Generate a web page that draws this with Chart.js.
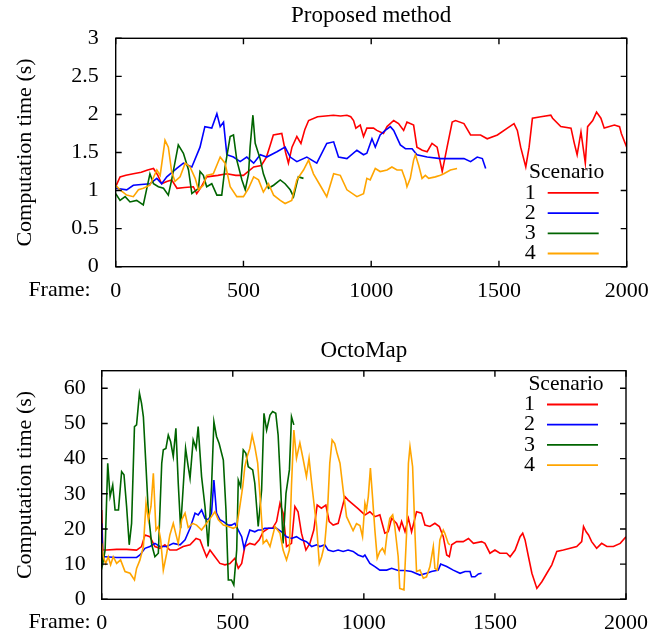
<!DOCTYPE html>
<html>
<head>
<meta charset="utf-8">
<script src="https://cdn.jsdelivr.net/npm/chart.js@4/dist/chart.umd.min.js"></script>
<style>
  html, body { margin: 0; padding: 0; background: #fff; }
  #wrap { position: relative; width: 665px; height: 637px; }
  .box { position: absolute; left: 0; width: 665px; }
</style>
</head>
<body>
<div id="wrap">
  <div class="box" style="top:0;height:318px"><canvas id="c1" width="665" height="318"></canvas></div>
  <div class="box" style="top:318px;height:319px"><canvas id="c2" width="665" height="319"></canvas></div>
</div>
<script>
// ---------------- DATA ----------------
const scenarioLabels = ['1', '2', '3', '4'];
const scenarioColors = ['#ff0000', '#0000ff', '#006400', '#ffa500'];
const xTicks = [0, 500, 1000, 1500, 2000];
const topYTicks = [0, 0.5, 1, 1.5, 2, 2.5, 3];
const bottomYTicks = [0, 10, 20, 30, 40, 50, 60];

// Proposed method — scenario 1
const prop1Frames = [0,17,40,69,100,125,148,165,180,200,219,240,270,304,317,335,356,400,435,470,500,540,570,590,605,617,650,665,676,690,709,725,740,755,790,852,880,905,920,931,940,957,970,983,1009,1022,1048,1062,1088,1107,1127,1140,1166,1179,1200,1219,1238,1258,1278,1297,1317,1330,1363,1389,1428,1454,1494,1533,1559,1572,1585,1605,1618,1631,1664,1703,1710,1742,1782,1795,1806,1821,1838,1847,1867,1882,1899,1912,1952,1972,1979,2000];
const prop1Values = [1.05,1.18,1.2,1.22,1.24,1.27,1.29,1.2,1.09,1.12,1.14,1.03,1.04,1.05,0.96,1.05,1.18,1.2,1.22,1.2,1.2,1.31,1.33,1.44,1.6,1.73,1.75,1.5,1.36,1.57,1.71,1.62,1.8,1.92,1.97,1.99,1.98,1.99,1.97,1.92,1.82,1.86,1.71,1.82,1.82,1.79,1.75,1.84,1.92,1.88,1.79,1.9,1.86,1.57,1.53,1.51,1.62,1.57,1.25,1.57,1.9,1.92,1.88,1.73,1.73,1.68,1.73,1.82,1.88,1.79,1.57,1.31,1.57,1.95,1.97,1.99,1.95,1.84,1.82,1.62,1.47,1.77,1.36,1.84,1.92,2.03,1.95,1.82,1.86,1.84,1.75,1.57];
// Proposed method — scenario 2
const prop2Frames = [0,43,69,100,134,161,180,200,239,265,298,330,349,376,396,409,422,435,461,487,513,540,566,591,631,663,683,709,748,787,826,853,872,905,944,970,983,1003,1016,1035,1055,1075,1088,1114,1134,1160,1179,1219,1271,1323,1363,1389,1415,1435,1448];
const prop2Values = [1.03,1.01,1.07,1.08,1.09,1.16,1.09,1.18,1.29,1.36,1.31,1.57,1.84,1.82,2.01,1.84,1.9,1.47,1.44,1.38,1.44,1.36,1.47,1.44,1.51,1.57,1.44,1.38,1.44,1.36,1.62,1.64,1.44,1.42,1.53,1.47,1.49,1.68,1.57,1.73,1.79,1.84,1.79,1.6,1.55,1.55,1.47,1.44,1.42,1.42,1.42,1.38,1.44,1.42,1.29];
// Proposed method — scenario 3
const prop3Frames = [0,17,37,56,82,108,134,148,167,187,206,219,245,265,285,298,324,330,343,356,376,396,415,428,448,461,474,494,507,520,526,537,546,565,578,598,618,644,663,683,696,715,735];
const prop3Values = [0.96,0.87,0.92,0.85,0.87,0.81,1.22,1.09,1.05,1.03,0.94,1.14,1.6,1.49,1.27,0.96,1.03,1.25,1.2,1.05,1.09,0.94,0.94,1.31,1.71,1.73,1.4,1.14,1.01,1.22,1.57,1.99,1.62,1.42,1.22,1.03,1.07,1.14,1.09,1.01,0.92,1.18,1.16];
// Proposed method — scenario 4
const prop4Frames = [0,17,43,69,89,108,134,161,174,193,206,219,232,252,272,291,311,324,343,356,382,409,428,448,474,500,520,540,559,578,598,618,644,663,689,709,735,755,774,800,826,853,879,905,944,970,983,996,1016,1035,1062,1081,1101,1120,1134,1140,1153,1166,1173,1186,1199,1212,1225,1251,1271,1284,1310,1336];
const prop4Values = [1.07,1.01,0.94,0.92,1.01,1.03,1.07,1.27,1.2,1.66,1.57,1.25,1.12,1.18,1.36,1.31,1.16,1.01,1.07,1.2,1.22,1.44,1.36,1.05,0.92,0.92,1.03,1.18,1.14,0.98,1.09,0.94,0.87,0.83,0.87,1.14,1.27,1.4,1.22,1.07,0.92,1.22,1.2,1.01,0.92,0.96,1.16,1.14,1.29,1.25,1.27,1.31,1.27,1.27,1.14,1.05,1.16,1.4,1.47,1.33,1.16,1.2,1.16,1.18,1.2,1.22,1.27,1.29];

// OctoMap — scenario 1
const octo1Frames = [0,4,19,57,95,133,152,165,184,203,222,241,260,286,311,337,360,375,387,400,413,432,451,470,489,508,521,534,546,565,584,601,616,636,652,667,680,692,705,724,737,749,762,779,794,809,822,838,855,868,883,902,915,928,940,959,978,1004,1023,1042,1061,1080,1093,1106,1125,1135,1144,1157,1170,1182,1201,1220,1233,1252,1271,1288,1303,1316,1326,1335,1354,1379,1399,1418,1449,1462,1481,1500,1519,1545,1558,1577,1596,1606,1615,1628,1641,1660,1679,1698,1717,1736,1761,1787,1812,1831,1838,1848,1857,1869,1888,1907,1927,1952,1978,2000];
const octo1Values = [25.4,14.0,14.0,14.2,14.2,14.0,15.0,18.3,17.8,15.0,14.5,15.5,14.0,14.0,15.0,15.5,17.3,16.9,14.5,12.1,14.0,12.1,10.2,9.8,10.2,11.7,8.8,10.2,15.0,15.9,15.5,16.9,19.2,20.2,20.2,22.1,27.3,24.5,15.0,15.9,26.4,24.9,18.8,14.0,15.9,19.7,26.8,25.9,26.8,22.1,21.1,21.6,25.4,29.2,28.2,27.0,25.8,24.0,24.9,23.5,24.0,18.8,19.2,23.0,21.6,19.7,22.1,19.2,23.0,19.2,24.9,24.5,21.1,20.7,21.6,20.7,17.8,12.6,12.1,15.5,16.4,16.4,17.3,15.9,16.4,15.9,13.1,14.0,13.1,13.1,12.1,14.0,17.8,18.8,16.9,12.1,7.4,3.1,5.0,7.4,9.8,13.6,14.0,14.5,15.0,16.4,20.7,19.2,18.3,16.4,14.5,15.9,15.0,15.0,15.9,17.8];
// OctoMap — scenario 2
const octo2Frames = [0,4,13,57,95,133,146,165,184,203,222,248,273,299,318,337,356,368,381,394,407,419,428,438,451,464,483,495,508,521,534,543,553,565,584,597,610,622,648,667,686,705,724,743,762,781,801,820,832,851,864,883,902,921,940,959,978,997,1004,1023,1042,1061,1087,1106,1131,1157,1182,1214,1239,1258,1284,1293,1316,1341,1367,1386,1405,1411,1424,1437,1449];
const octo2Values = [21.6,12.1,12.1,11.9,11.9,11.9,12.6,14.5,15.0,15.9,15.0,15.0,15.9,15.5,16.9,20.2,24.5,24.0,25.4,23.0,22.6,24.5,33.9,24.5,22.6,22.1,21.1,21.1,21.6,19.7,17.8,14.5,16.9,19.7,19.2,19.7,19.7,20.2,20.2,20.2,19.2,17.8,17.3,17.8,16.9,16.4,15.0,15.5,15.0,15.5,14.0,13.6,14.0,13.6,14.0,13.6,12.6,12.1,12.6,10.2,9.3,8.3,8.3,8.8,8.2,8.2,7.9,6.9,7.4,7.9,8.3,10.0,9.3,8.3,7.4,7.9,7.9,6.4,6.4,7.2,7.4];
// OctoMap — scenario 3
const octo3Frames = [0,4,13,23,32,42,51,64,76,85,95,105,114,125,133,144,152,159,169,178,191,203,216,229,235,245,254,263,273,283,292,301,311,320,330,337,349,360,368,381,394,406,419,428,438,448,464,474,483,495,504,515,521,530,540,550,559,576,584,597,610,619,629,642,652,664,673,682,692,703,716,724,733];
const octo3Values = [15.9,10.2,14.0,38.7,29.2,32.5,25.4,25.4,36.3,35.4,26.4,15.5,21.6,49.1,49.6,58.6,55.7,51.9,37.7,24.5,15.5,12.1,13.1,38.7,42.5,42.9,46.7,44.8,40.6,48.6,33.0,20.2,32.0,42.9,37.7,34.4,45.3,42.9,49.1,34.9,26.4,15.0,32.0,50.5,46.3,44.3,39.6,25.4,5.5,5.5,4.1,14.0,33.9,32.0,42.5,41.5,37.7,36.8,33.0,20.7,31.1,52.9,48.1,52.4,53.4,52.9,46.7,33.0,15.9,30.1,36.8,51.9,49.6];
// OctoMap — scenario 4
const octo4Frames = [0,6,15,25,34,44,57,72,89,108,125,133,146,159,169,178,188,197,207,216,225,235,248,260,273,282,292,305,318,330,347,362,381,400,419,432,445,464,483,502,515,527,538,546,555,565,574,584,595,604,616,629,642,661,680,692,705,716,724,733,743,756,769,781,791,801,811,820,830,839,851,861,870,879,889,898,909,921,934,946,959,972,985,995,1004,1010,1017,1025,1033,1042,1051,1061,1071,1080,1089,1099,1110,1118,1131,1137,1153,1163,1170,1176,1186,1195,1201,1214,1227,1239,1252,1265,1271,1280,1290,1303,1309,1322,1328];
const octo4Values = [15.9,12.1,10.2,12.1,9.8,12.1,10.2,11.2,7.9,7.4,5.5,8.8,11.2,15.0,27.3,22.6,26.4,35.8,19.7,20.7,16.9,8.3,13.1,18.3,21.6,18.8,15.9,22.6,24.5,20.4,21.6,21.1,19.7,21.6,23.5,24.9,22.6,21.1,20.7,20.2,20.7,26.4,32.0,37.7,40.6,42.9,46.7,43.4,38.7,29.2,15.9,16.9,15.0,20.7,18.8,14.0,11.2,14.0,32.5,48.1,40.1,44.5,39.6,34.9,40.1,33.0,26.4,20.7,10.2,12.1,15.9,24.5,38.7,45.3,44.3,41.5,38.7,31.1,23.5,21.6,19.5,21.5,21.0,17.8,27.3,25.4,29.2,37.3,29.2,19.7,11.7,13.6,14.5,13.1,18.8,23.0,24.0,20.7,12.1,3.1,2.7,18.8,38.7,43.4,37.7,18.8,7.9,8.3,6.0,6.4,9.3,15.0,8.8,8.3,16.9,19.7,18.8,15.9,15.5];

// ---------------- RENDERING ----------------
const FONT = "'Liberation Serif', 'Times New Roman', serif";

function pts(frames, values) { return frames.map((f, i) => ({ x: f, y: values[i] })); }

function makeDatasets(frameArrs, valueArrs) {
  return scenarioLabels.map((lab, i) => ({
    label: lab,
    data: pts(frameArrs[i], valueArrs[i]),
    borderColor: scenarioColors[i],
    backgroundColor: scenarioColors[i],
    borderWidth: 1.6,
    pointRadius: 0,
    tension: 0,
    fill: false,
    order: 4 - i
  }));
}

// frame box + inward tick marks on all four sides
const framePlugin = {
  id: 'frameBox',
  afterDatasetsDraw(chart) {
    const { ctx, chartArea: a, scales } = chart;
    ctx.save();
    ctx.strokeStyle = '#000';
    ctx.lineWidth = 1.4;
    ctx.beginPath();
    const L = 6;
    scales.x.ticks.forEach(t => {
      const px = scales.x.getPixelForValue(t.value);
      ctx.moveTo(px, a.bottom); ctx.lineTo(px, a.bottom - L);
      ctx.moveTo(px, a.top); ctx.lineTo(px, a.top + L);
    });
    scales.y.ticks.forEach(t => {
      const py = scales.y.getPixelForValue(t.value);
      ctx.moveTo(a.left, py); ctx.lineTo(a.left + L, py);
      ctx.moveTo(a.right, py); ctx.lineTo(a.right - L, py);
    });
    ctx.stroke();
    ctx.strokeRect(a.left, a.top, a.right - a.left, a.bottom - a.top);
    ctx.restore();
  }
};

// title centred over the plot area, "Frame:" label beside the x tick labels
const textPlugin = {
  id: 'texts',
  afterDraw(chart, args, opts) {
    const { ctx, chartArea: a, scales } = chart;
    ctx.save();
    ctx.fillStyle = '#000';
    ctx.textBaseline = 'middle';
    ctx.font = '23px ' + FONT;
    ctx.textAlign = 'center';
    ctx.fillText(opts.title, (a.left + a.right) / 2, opts.titleY);
    ctx.font = '22px ' + FONT;
    ctx.textAlign = 'right';
    ctx.fillText('Frame:', opts.frameRight, opts.labelY);
    ctx.restore();
  }
};

// gnuplot-style key: "Scenario" header, number then line sample
const keyPlugin = {
  id: 'scenKey',
  afterDraw(chart, args, opts) {
    const { ctx, chartArea: a } = chart;
    ctx.save();
    ctx.fillStyle = '#000';
    ctx.textBaseline = 'middle';
    ctx.font = '21.5px ' + FONT;
    ctx.textAlign = 'center';
    ctx.fillText('Scenario', a.right - 60, a.top + opts.top);
    chart.data.datasets.forEach((ds, i) => {
      const y = a.top + opts.top + (i + 1) * opts.step;
      ctx.font = '22px ' + FONT;
      ctx.textAlign = 'center';
      ctx.fillStyle = '#000';
      ctx.fillText(ds.label, a.right - 96.5, y);
      ctx.strokeStyle = ds.borderColor;
      ctx.lineWidth = 1.8;
      ctx.beginPath();
      ctx.moveTo(a.right - 79, y);
      ctx.lineTo(a.right - 28, y);
      ctx.stroke();
    });
    ctx.restore();
  }
};

function makeChart(id, cfg) {
  return new Chart(document.getElementById(id), {
    type: 'line',
    data: { datasets: makeDatasets(cfg.frames, cfg.values) },
    options: {
      responsive: false,
      animation: false,
      events: [],
      layout: { padding: { left: 0, right: cfg.padRight, top: cfg.padTop, bottom: 0 } },
      plugins: {
        legend: { display: false },
        tooltip: { enabled: false },
        title: { display: false },
        texts: { title: cfg.title, titleY: cfg.titleY, frameRight: 90.7, labelY: cfg.labelY },
        scenKey: { top: cfg.keyTop, step: 20.2 }
      },
      scales: {
        x: {
          type: 'linear',
          min: 0, max: 2000,
          grid: { display: false },
          border: { display: false },
          afterBuildTicks: s => { s.ticks = xTicks.map(v => ({ value: v })); },
          afterFit: s => { s.height = cfg.xHeight; },
          ticks: { color: '#000', padding: 3, maxRotation: 0, font: { family: FONT, size: 22 },
                   callback: v => String(v) }
        },
        y: {
          type: 'linear',
          min: 0, max: cfg.yMax,
          grid: { display: false },
          border: { display: false },
          afterBuildTicks: s => { s.ticks = cfg.yTicks.map(v => ({ value: v })); },
          afterFit: s => { s.width = cfg.yWidth; },
          ticks: { color: '#000', padding: cfg.yPad, font: { family: FONT, size: 22 },
                   callback: v => String(v) },
          title: {
            display: true,
            text: 'Computation time (s)',
            color: '#000',
            padding: { top: 12, bottom: 0 },
            font: { family: FONT, size: 22, weight: 'normal' }
          }
        }
      }
    },
    plugins: [framePlugin, textPlugin, keyPlugin]
  });
}

makeChart('c1', {
  title: 'Proposed method', titleY: 15.5, labelY: 290,
  frames: [prop1Frames, prop2Frames, prop3Frames, prop4Frames],
  values: [prop1Values, prop2Values, prop3Values, prop4Values],
  yMax: 3, yTicks: topYTicks,
  padRight: 38.3, padTop: 38.3,
  xHeight: 51.3, yWidth: 115.7, yPad: 9,
  keyTop: 134.4
});

makeChart('c2', {
  title: 'OctoMap', titleY: 350.5 - 318, labelY: 622 - 318,
  frames: [octo1Frames, octo2Frames, octo3Frames, octo4Frames],
  values: [octo1Values, octo2Values, octo3Values, octo4Values],
  yMax: 65, yTicks: bottomYTicks,
  padRight: 39, padTop: 52.7,
  xHeight: 37.7, yWidth: 101.7, yPad: 8,
  keyTop: 13.6
});
</script>
</body>
</html>
